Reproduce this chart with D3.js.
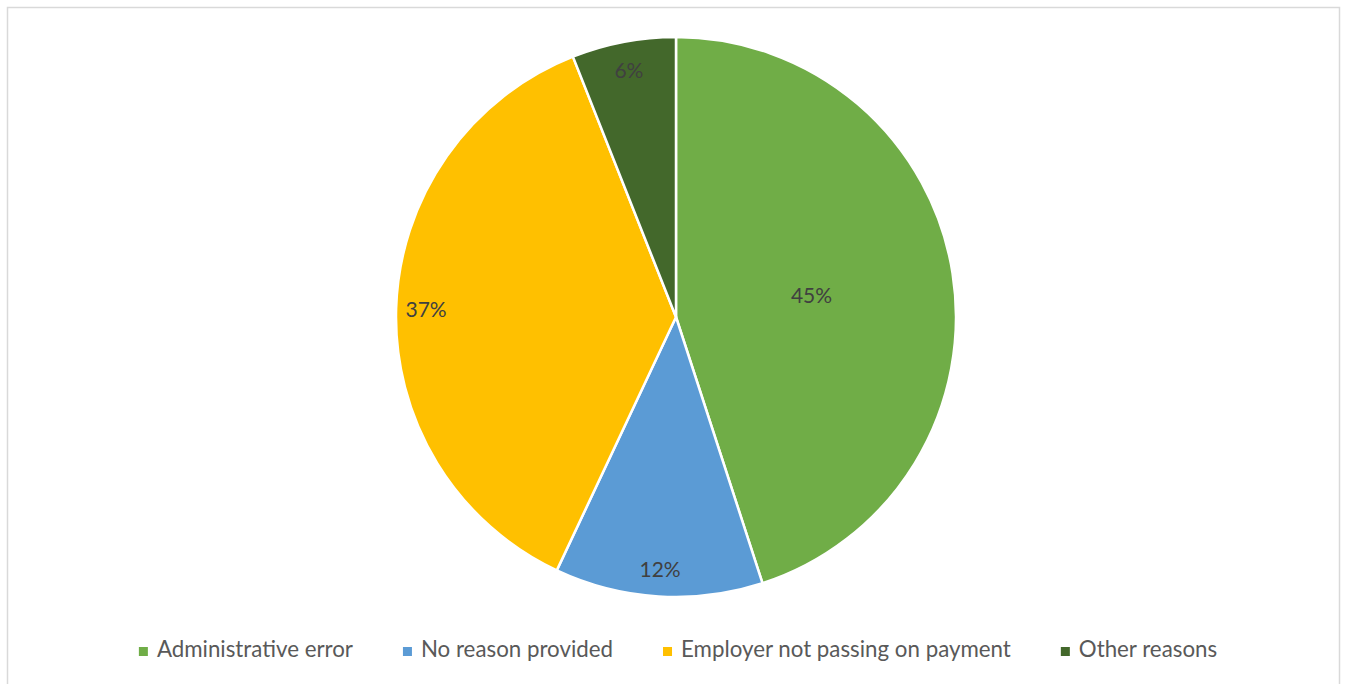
<!DOCTYPE html>
<html>
<head>
<meta charset="utf-8">
<script src="https://cdn.jsdelivr.net/npm/d3@7"></script>
<style>
  body { margin: 0; background: #fff; }
  text { font-family: Lato, "Open Sans", sans-serif; }
</style>
</head>
<body>
<div id="graph"></div>
<script>
var width = 1348, height = 684

var categories = ['Administrative error', 'No reason provided', 'Employer not passing on payment', 'Other reasons']
var values = [45, 12, 37, 6]
var colors = ['#70AD47', '#5B9BD5', '#FFC000', '#43682B']
// excel "best fit" puts the big slice label further in
var labelPos = [0.49, 0.905, 0.893, 0.897]

var cx = 676, cy = 317, r = 280

var svg = d3.select('#graph').append('svg')
    .attr('width', width).attr('height', height)

svg.append('rect')
    .attr('x', 7.5).attr('y', 7.5)
    .attr('width', 1332).attr('height', 720)
    .attr('fill', 'none').attr('stroke', '#d9d9d9').attr('stroke-width', 1.5)

var data = categories.map(function(c, i){ return {name: c, value: values[i], i: i} })

var pie = d3.pie().sort(null).value(function(d){ return d.value })
var arc = d3.arc().innerRadius(0).outerRadius(r)

var g = svg.append('g').attr('transform', 'translate(' + cx + ',' + cy + ')')

var arcs = pie(data)

g.selectAll('path').data(arcs).join('path')
    .attr('d', arc)
    .attr('fill', function(d){ return colors[d.data.i] })
    .attr('stroke', '#fff').attr('stroke-width', 2.5)

g.selectAll('text.lbl').data(arcs).join('text')
    .attr('class', 'lbl')
    .attr('transform', function(d){
      var a = (d.startAngle + d.endAngle) / 2
      var rr = r * labelPos[d.data.i]
      return 'translate(' + (Math.sin(a) * rr) + ',' + (-Math.cos(a) * rr) + ')'
    })
    .attr('text-anchor', 'middle')
    .attr('dy', '0.35em')
    .attr('fill', '#404040')
    .style('font-size', '21px')
    .text(function(d){ return d.data.value + '%' })

// legend
var gap = 50
var legend = svg.append('g')
var x = 0
var items = legend.selectAll('g').data(data).join('g')
items.append('rect')
    .attr('width', 9).attr('height', 9).attr('y', -10)
    .attr('fill', function(d){ return colors[d.i] })
items.append('text')
    .attr('x', 18)
    .attr('fill', '#595959')
    .style('font-size', '22.3px')
    .text(function(d){ return d.name })
items.each(function(){
  var sel = d3.select(this)
  sel.attr('transform', 'translate(' + x + ',0)')
  x += 18 + sel.select('text').node().getComputedTextLength() + gap
})
var total = x - gap
legend.attr('transform', 'translate(' + (678 - total / 2) + ',657)')
</script>
</body>
</html>
